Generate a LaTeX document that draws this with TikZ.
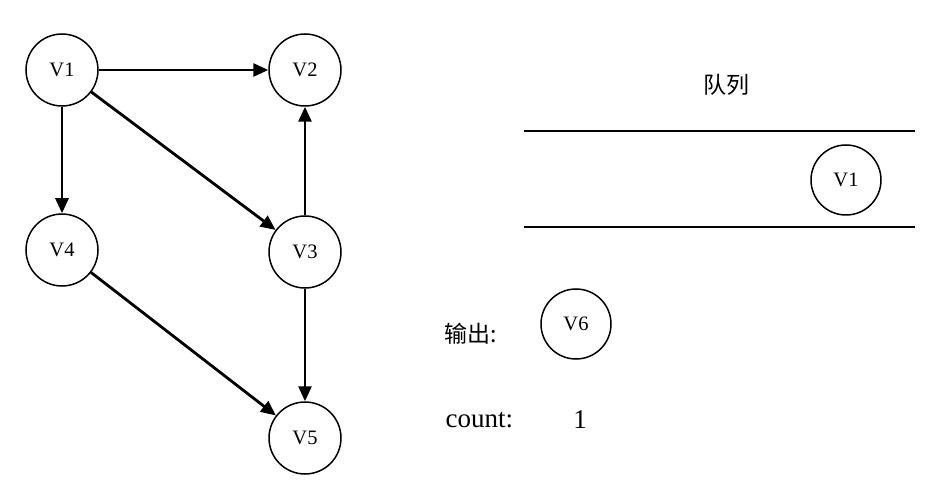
\documentclass[tikz,border=0pt]{standalone}
\usepackage{fontspec}
\setmainfont{Liberation Serif}
\newfontfamily\cjk{Noto Sans CJK SC}
\usetikzlibrary{arrows.meta}
\begin{document}
\begin{tikzpicture}[x=1pt,y=-1pt,
  vtx/.style={circle,draw,line width=1.5pt,minimum size=72pt,inner sep=0pt,font=\fontsize{20.5}{24}\selectfont},
  edge/.style={line width=2.8pt,-{Triangle[length=15pt,width=13pt]}},
  qline/.style={line width=1.5pt},
  cjklab/.style={font=\cjk\fontsize{23}{27}\selectfont}]
\useasboundingbox (0,0) rectangle (937,494);
\node[vtx] (v1) at (62,70) {V1};
\node[vtx] (v2) at (305,70) {V2};
\node[vtx] (v4) at (62,250) {V4};
\node[vtx] (v3) at (305,252) {V3};
\node[vtx] (v5) at (305,438) {V5};
\draw[edge] (v1) -- (v2);
\draw[edge] (v1) -- (v4);
\draw[edge] (v1) -- (v3);
\draw[edge] (v3) -- (v2);
\draw[edge] (v4) -- (v5);
\draw[edge] (v3) -- (v5);
\node[cjklab] (ql) at (726,85) {队列};
\coordinate (qa1) at (524,131);
\coordinate (qa2) at (915,131);
\coordinate (qb1) at (524,227);
\coordinate (qb2) at (915,227);
\draw[qline] (qa1) -- (qa2);
\draw[qline] (qb1) -- (qb2);
\node[vtx,minimum size=70pt] (q1) at (846,180) {V1};
\node[cjklab,anchor=west] (out) at (441,334) {输出:};
\node[vtx,minimum size=70pt] (v6) at (576,324) {V6};
\node[font=\fontsize{27}{32}\selectfont,anchor=west] (cnt) at (442,420) {count:};
\node[font=\fontsize{27}{32}\selectfont] (one) at (580,420) {1};
\end{tikzpicture}
\end{document}
